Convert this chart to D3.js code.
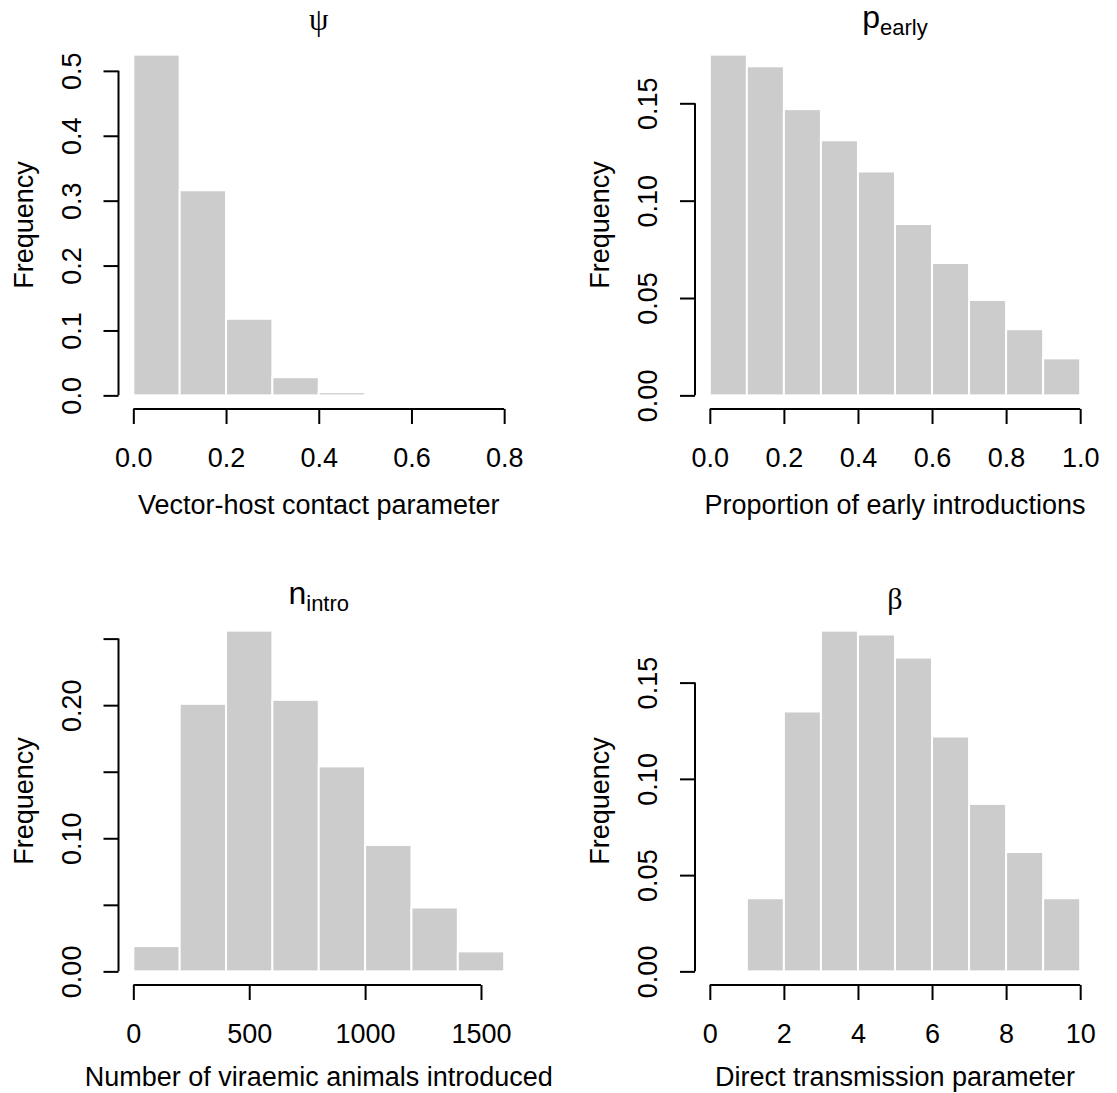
<!DOCTYPE html>
<html>
<head>
<meta charset="utf-8">
<script src="https://cdn.jsdelivr.net/npm/d3@7/dist/d3.min.js"></script>
<style>
  html, body { margin: 0; padding: 0; background: #ffffff; }
  svg { display: block; }
</style>
</head>
<body>
<svg id="chart" width="1117" height="1093"></svg>
<script>
// ---------------- DATA ----------------
// Panel 1: psi (vector-host contact parameter)
const psiBreaks = [0.0, 0.1, 0.2, 0.3, 0.4, 0.5];
const psiFreq = [0.525, 0.316, 0.118, 0.028, 0.005];
const psiXTicks = [0.0, 0.2, 0.4, 0.6, 0.8];
const psiXLabels = ["0.0", "0.2", "0.4", "0.6", "0.8"];
const psiYTicks = [0.0, 0.1, 0.2, 0.3, 0.4, 0.5];
const psiYLabels = ["0.0", "0.1", "0.2", "0.3", "0.4", "0.5"];

// Panel 2: p_early (proportion of early introductions)
const pearlyBreaks = [0.0, 0.1, 0.2, 0.3, 0.4, 0.5, 0.6, 0.7, 0.8, 0.9, 1.0];
const pearlyFreq = [0.175, 0.169, 0.147, 0.131, 0.115, 0.088, 0.068, 0.049, 0.034, 0.019];
const pearlyXTicks = [0.0, 0.2, 0.4, 0.6, 0.8, 1.0];
const pearlyXLabels = ["0.0", "0.2", "0.4", "0.6", "0.8", "1.0"];
const pearlyYTicks = [0.00, 0.05, 0.10, 0.15];
const pearlyYLabels = ["0.00", "0.05", "0.10", "0.15"];

// Panel 3: n_intro (number of viraemic animals introduced)
const nintroBreaks = [0, 200, 400, 600, 800, 1000, 1200, 1400, 1600];
const nintroFreq = [0.019, 0.201, 0.256, 0.204, 0.154, 0.095, 0.048, 0.015];
const nintroXTicks = [0, 500, 1000, 1500];
const nintroXLabels = ["0", "500", "1000", "1500"];
const nintroYTicks = [0.00, 0.05, 0.10, 0.15, 0.20, 0.25];
const nintroYLabels = ["0.00", "", "0.10", "", "0.20", ""];

// Panel 4: beta (direct transmission parameter)
const betaBreaks = [1, 2, 3, 4, 5, 6, 7, 8, 9, 10];
const betaFreq = [0.038, 0.135, 0.177, 0.175, 0.163, 0.122, 0.087, 0.062, 0.038];
const betaXTicks = [0, 2, 4, 6, 8, 10];
const betaXLabels = ["0", "2", "4", "6", "8", "10"];
const betaYTicks = [0.00, 0.05, 0.10, 0.15];
const betaYLabels = ["0.00", "0.05", "0.10", "0.15"];

const panels = [
  { col: 0, row: 0, breaks: psiBreaks, freq: psiFreq, xlim: [0, 0.8],
    xTicks: psiXTicks, xLabels: psiXLabels, yTicks: psiYTicks, yLabels: psiYLabels,
    title: { main: "\u03C8", sub: null, greek: true, size: 31, off: 11 },
    xlab: "Vector-host contact parameter" },
  { col: 1, row: 0, breaks: pearlyBreaks, freq: pearlyFreq, xlim: [0, 1],
    xTicks: pearlyXTicks, xLabels: pearlyXLabels, yTicks: pearlyYTicks, yLabels: pearlyYLabels,
    title: { main: "p", sub: "early", greek: false, size: 32, off: 13 },
    xlab: "Proportion of early introductions" },
  { col: 0, row: 1, breaks: nintroBreaks, freq: nintroFreq, xlim: [0, 1600],
    xTicks: nintroXTicks, xLabels: nintroXLabels, yTicks: nintroYTicks, yLabels: nintroYLabels,
    title: { main: "n", sub: "intro", greek: false, size: 32, off: 13 },
    xlab: "Number of viraemic animals introduced" },
  { col: 1, row: 1, breaks: betaBreaks, freq: betaFreq, xlim: [0, 10],
    xTicks: betaXTicks, xLabels: betaXLabels, yTicks: betaYTicks, yLabels: betaYLabels,
    title: { main: "\u03B2", sub: null, greek: true, size: 30, off: 8 },
    xlab: "Direct transmission parameter" }
];

// ---------------- LAYOUT ----------------
const colX = [[118.5, 519], [695, 1095]];
const rowY = [[41, 409], [617, 985]];
const xlabOffset = [105, 101];
const FONT = "'Liberation Sans', Arial, Helvetica, sans-serif";
const SERIF = "'Liberation Serif', 'DejaVu Serif', serif";
const FS = 27;
const FS_SUB = 22;
const TICK = 15;

const svg = d3.select("#chart");

panels.forEach(p => {
  const [x0, x1] = colX[p.col];
  const [y0, y1] = rowY[p.row];
  const xr = p.xlim[1] - p.xlim[0];
  const x = d3.scaleLinear()
    .domain([p.xlim[0] - 0.04 * xr, p.xlim[1] + 0.04 * xr])
    .range([x0, x1]);
  const ymax = d3.max(p.freq);
  const y = d3.scaleLinear()
    .domain([-0.04 * ymax, 1.04 * ymax])
    .range([y1, y0]);

  const g = svg.append("g");

  // bars
  const bins = p.freq.map((f, i) => ({ a: p.breaks[i], b: p.breaks[i + 1], f: f }));
  g.selectAll("rect.bar").data(bins).enter().append("rect")
    .attr("class", "bar")
    .attr("x", d => x(d.a))
    .attr("width", d => x(d.b) - x(d.a))
    .attr("y", d => y(d.f))
    .attr("height", d => y(0) - y(d.f))
    .attr("fill", "#cccccc")
    .attr("stroke", "#ffffff")
    .attr("stroke-width", 2);

  // x axis
  const xAxis = d3.axisBottom(x)
    .tickValues(p.xTicks)
    .tickFormat((d, i) => p.xLabels[i])
    .tickSize(TICK)
    .tickPadding(24);
  const gx = g.append("g").attr("transform", `translate(0,${y1})`).call(xAxis);
  gx.select(".domain").remove();
  gx.append("line")
    .attr("x1", x(p.xTicks[0])).attr("x2", x(p.xTicks[p.xTicks.length - 1]))
    .attr("y1", 0).attr("y2", 0)
    .attr("stroke", "#000").attr("stroke-width", 2);
  gx.selectAll(".tick line").attr("stroke", "#000").attr("stroke-width", 2);
  gx.selectAll(".tick text")
    .attr("fill", "#000")
    .style("font-family", FONT).style("font-size", FS + "px");

  // y axis
  const yAxis = d3.axisLeft(y)
    .tickValues(p.yTicks)
    .tickFormat((d, i) => p.yLabels[i])
    .tickSize(TICK);
  const gy = g.append("g").attr("transform", `translate(${x0},0)`).call(yAxis);
  gy.select(".domain").remove();
  gy.append("line")
    .attr("x1", 0).attr("x2", 0)
    .attr("y1", y(p.yTicks[0])).attr("y2", y(p.yTicks[p.yTicks.length - 1]))
    .attr("stroke", "#000").attr("stroke-width", 2);
  gy.selectAll(".tick line").attr("stroke", "#000").attr("stroke-width", 2);
  gy.selectAll(".tick text")
    .attr("x", null).attr("dy", null)
    .attr("transform", "translate(-38,0) rotate(-90)")
    .attr("text-anchor", "middle")
    .attr("fill", "#000")
    .style("font-family", FONT).style("font-size", FS + "px");

  // axis titles
  const cx = (x0 + x1) / 2;
  const cy = (y0 + y1) / 2;
  g.append("text")
    .attr("x", cx).attr("y", y1 + xlabOffset[p.row])
    .attr("text-anchor", "middle")
    .style("font-family", FONT).style("font-size", FS + "px")
    .attr("fill", "#000")
    .text(p.xlab);
  g.append("text")
    .attr("transform", `translate(${x0 - 86},${cy}) rotate(-90)`)
    .attr("text-anchor", "middle")
    .style("font-family", FONT).style("font-size", FS + "px")
    .attr("fill", "#000")
    .text("Frequency");

  // main title
  const t = g.append("text")
    .attr("x", cx).attr("y", y0 - p.title.off)
    .attr("text-anchor", "middle")
    .attr("fill", "#000");
  if (p.title.greek) {
    t.style("font-family", SERIF).style("font-size", p.title.size + "px").text(p.title.main);
  } else {
    t.style("font-family", FONT).style("font-size", p.title.size + "px");
    t.append("tspan").text(p.title.main);
    t.append("tspan").attr("dy", 7).style("font-size", FS_SUB + "px").text(p.title.sub);
  }
});
</script>
</body>
</html>
